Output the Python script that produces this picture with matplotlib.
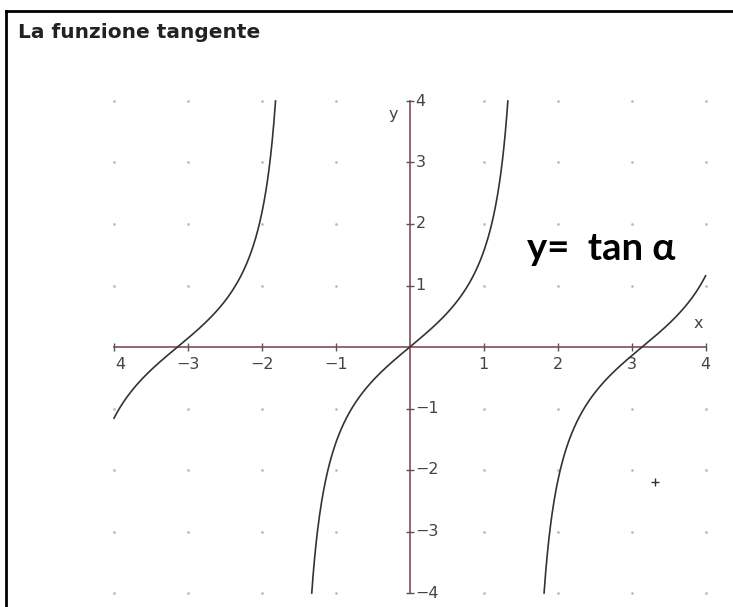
import numpy as np
import matplotlib
matplotlib.use("Agg")
from matplotlib import pyplot as plt

# axis ticks and labels
x_ticks = [-4, -3, -2, -1, 1, 2, 3, 4]
x_labels = ["4", "\u22123", "\u22122", "\u22121", "1", "2", "3", "4"]
y_ticks = [-4, -3, -2, -1, 1, 2, 3, 4]
y_labels = ["\u22124", "\u22123", "\u22122", "\u22121", "1", "2", "3", "4"]
branches = [-1, 0, 1]          # periods of tan shown in the window
marker_pt = (3.32, -2.2)       # small cross drawn in the lower right

W, H = 733, 607
fig = plt.figure(figsize=(W / 100, H / 100), dpi=100)
fig.patch.set_facecolor("white")

# frame lines (top and left)
fig.add_artist(plt.Line2D([6 / W, 1], [1 - 11 / H, 1 - 11 / H], color="black", lw=2))
fig.add_artist(plt.Line2D([6 / W, 6 / W], [0, 1 - 11 / H], color="black", lw=2))

fig.text(18 / W, 1 - 33 / H, "La funzione tangente", fontsize=14.5,
         fontweight="bold", color="#222222", va="center", ha="left")

ax = fig.add_axes([114 / W, 14 / H, (705.6 - 114) / W, (593 - 101) / H])
ax.set_xlim(-4, 4)
ax.set_ylim(-4, 4)
ax.axis("off")

# dotted background grid
gx, gy = np.meshgrid(x_ticks, y_ticks)
ax.scatter(gx.ravel(), gy.ravel(), s=4, color="#bdbdbd", lw=0, clip_on=False)

axis_col = "#8a5c60"
ax.plot([-4, 4], [0, 0], color=axis_col, lw=1.3, clip_on=False)
ax.plot([0, 0], [-4, 4], color=axis_col, lw=1.3, clip_on=False)
ax.plot(x_ticks, [0] * len(x_ticks), ls="none", marker="|", ms=6, mew=1,
        color="#555555", clip_on=False)
ax.plot([0] * len(y_ticks), y_ticks, ls="none", marker="_", ms=6, mew=1,
        color="#555555", clip_on=False)

for t, lab in zip(x_ticks, x_labels):
    ax.text(t + (0.08 if t == -4 else 0), -0.17, lab, ha="center", va="top",
            fontsize=11.5, color="#444444")
for t, lab in zip(y_ticks, y_labels):
    ax.text(0.08, t, lab, ha="left", va="center", fontsize=11.5, color="#444444")
ax.text(-0.22, 3.78, "y", ha="center", va="center", fontsize=11.5, color="#444444")
ax.text(3.9, 0.38, "x", ha="center", va="center", fontsize=11.5, color="#444444")

# y = tan(x), one branch per period, limited to the visible window
lim = np.arctan(4)
for k in branches:
    lo = max(-4, k * np.pi - lim)
    hi = min(4, k * np.pi + lim)
    xs = np.linspace(lo, hi, 400)
    ax.plot(xs, np.tan(xs), color="#333333", lw=1.2, clip_on=False)

ax.plot(*marker_pt, marker="+", ms=6, mew=1, color="#333333")

ax.text(1.58, 1.6, "y=  tan \u03b1", fontsize=27.5, fontweight="bold",
        family=["Lato", "DejaVu Sans"], color="black", ha="left", va="center")

fig.savefig("out.png", dpi=100)
